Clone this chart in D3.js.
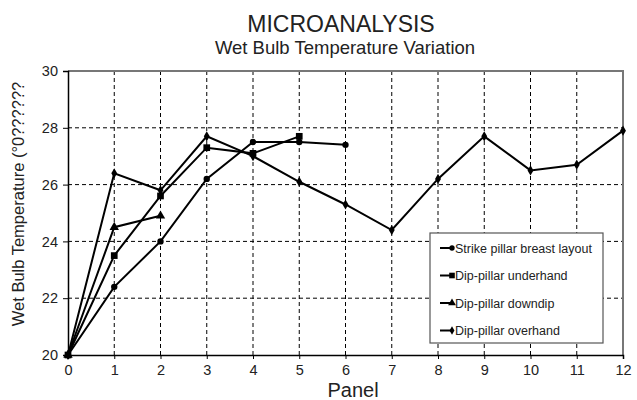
<!DOCTYPE html>
<html lang="en">
<head>
    <meta charset="UTF-8">
    <title>Microanalysis</title>
    <style>
        body { margin: 0; background: #fff; font-family: Arial, "Liberation Sans", sans-serif; }
        .grid line { stroke: #000; stroke-width: 1; stroke-dasharray: 4,3; }
        .series path { fill: none; stroke: #000; stroke-width: 2; }
    </style>
</head>
<body>
<div id="chart"></div>
<script src="https://d3js.org/d3.v7.min.js"></script>
<script>
    // data
    var panels = [0, 1, 2, 3, 4, 5, 6, 7, 8, 9, 10, 11, 12];
    var yTicks = [20, 22, 24, 26, 28, 30];
    var strikeBreast = [20, 22.4, 24.0, 26.2, 27.5, 27.5, 27.4];
    var dipUnderhand = [20, 23.5, 25.6, 27.3, 27.1, 27.7];
    var dipDowndip = [20, 24.5, 24.9];
    var dipOverhand = [20, 26.4, 25.8, 27.7, 27.0, 26.1, 25.3, 24.4, 26.2, 27.7, 26.5, 26.7, 27.9];
    var seriesNames = ["Strike pillar breast layout", "Dip-pillar underhand", "Dip-pillar downdip", "Dip-pillar overhand"];

    var W = 637, H = 400;
    var margin = {top: 71, right: 14, bottom: 45, left: 68},
        width = W - margin.left - margin.right,
        height = H - margin.top - margin.bottom;

    var root = d3.select("#chart").append("svg")
        .attr("width", W)
        .attr("height", H);

    var svg = root.append("g")
        .attr("transform", `translate(${margin.left},${margin.top})`);

    var x = d3.scaleLinear().domain([0, 12]).range([0, width]);
    var y = d3.scaleLinear().domain([20, 30]).range([height, 0]);

    // titles
    root.append("text")
        .attr("x", 341).attr("y", 32)
        .attr("text-anchor", "middle")
        .style("font-size", "23px").attr("fill", "#222")
        .text("MICROANALYSIS");
    root.append("text")
        .attr("x", 345).attr("y", 54)
        .attr("text-anchor", "middle")
        .style("font-size", "18.5px").attr("fill", "#222")
        .text("Wet Bulb Temperature Variation");

    // grid
    svg.append("g").attr("class", "grid")
        .selectAll("line").data(panels.slice(1, -1)).enter().append("line")
        .attr("x1", d => x(d)).attr("x2", d => x(d))
        .attr("y1", 0).attr("y2", height);
    svg.append("g").attr("class", "grid")
        .selectAll("line").data(yTicks.slice(1, -1)).enter().append("line")
        .attr("x1", 0).attr("x2", width)
        .attr("y1", d => y(d)).attr("y2", d => y(d));

    // frame top/right
    svg.append("path")
        .attr("d", `M0,0H${width}V${height}`)
        .attr("fill", "none").attr("stroke", "#777").attr("stroke-width", 2);

    // axes
    var xAxis = svg.append("g")
        .attr("transform", `translate(0,${height})`)
        .call(d3.axisBottom(x).tickValues(panels).tickSize(4).tickPadding(6).tickFormat(d3.format("d")));
    var yAxis = svg.append("g")
        .call(d3.axisLeft(y).tickValues(yTicks).tickSize(5).tickPadding(5).tickFormat(d3.format("d")));
    [xAxis, yAxis].forEach(function (a) {
        a.select(".domain").attr("stroke", "#000").attr("stroke-width", 1.5);
        a.selectAll(".tick line").attr("stroke", "#000");
        a.selectAll("text").style("font-family", "Arial, 'Liberation Sans', sans-serif")
            .style("font-size", "14.5px").attr("fill", "#222");
    });

    // axis labels
    root.append("text")
        .attr("x", 353).attr("y", 397)
        .attr("text-anchor", "middle")
        .style("font-size", "20px").attr("fill", "#222")
        .text("Panel");
    root.append("text")
        .attr("transform", "translate(24,204) rotate(-90)")
        .attr("text-anchor", "middle")
        .style("font-size", "16.5px").attr("fill", "#222")
        .text("Wet Bulb Temperature (\u00b00??????");

    // series
    var line = d3.line().x((d, i) => x(i)).y(d => y(d));
    var allSeries = [
        {name: seriesNames[0], values: strikeBreast, symbol: d3.symbolCircle, size: 32},
        {name: seriesNames[1], values: dipUnderhand, symbol: d3.symbolSquare, size: 45},
        {name: seriesNames[2], values: dipDowndip, symbol: d3.symbolTriangle, size: 38},
        {name: seriesNames[3], values: dipOverhand, symbol: d3.symbolDiamond, size: 30}
    ];

    var g = svg.selectAll(".series").data(allSeries).enter().append("g").attr("class", "series");
    g.append("path").attr("d", d => line(d.values));
    g.each(function (s) {
        d3.select(this).selectAll(".pt").data(s.values).enter().append("path")
            .attr("class", "pt")
            .attr("transform", (d, i) => `translate(${x(i)},${y(d)})`)
            .attr("d", d3.symbol().type(s.symbol).size(s.size))
            .style("fill", "#000").style("stroke", "none");
    });

    // legend
    var lg = root.append("g").attr("transform", "translate(430,233)");
    lg.append("rect").attr("width", 173).attr("height", 110)
        .attr("fill", "#fff").attr("stroke", "#555").attr("stroke-width", 1.2);
    var item = lg.selectAll(".item").data(allSeries).enter().append("g")
        .attr("transform", (d, i) => `translate(0,${15 + i * 27.5})`);
    item.append("line").attr("x1", 10).attr("x2", 21).attr("y1", 0).attr("y2", 0)
        .attr("stroke", "#000").attr("stroke-width", 2);
    item.append("path").attr("transform", "translate(22,0)")
        .attr("d", d => d3.symbol().type(d.symbol).size(d.size * 0.7)())
        .attr("fill", "#000");
    item.append("text").attr("x", 25).attr("y", 4.5)
        .style("font-size", "12.5px").attr("fill", "#222")
        .text(d => d.name);
</script>
</body>
</html>
